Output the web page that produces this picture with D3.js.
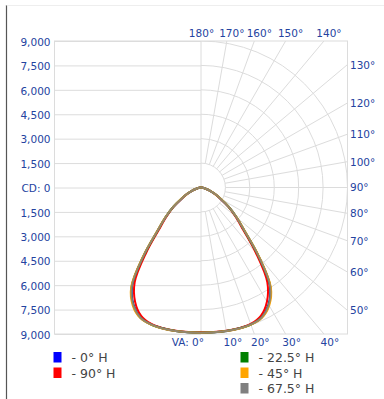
<!DOCTYPE html>
<html>
<head>
<meta charset="utf-8">
<script src="https://cdn.jsdelivr.net/npm/d3@7"></script>
<style>
  body { margin: 0; background: #fff; }
  svg { display: block; }
  text { font-family: "DejaVu Sans", sans-serif; }
</style>
</head>
<body>
<div id="chart"></div>
<script>
// vertical angles (deg from nadir) and candela values for each horizontal plane
const angles = [0, 5, 10, 15, 20, 25, 30, 35, 40, 45, 50, 55, 60, 65, 70, 75, 80, 85, 90];
const h0   = [8920, 8930, 8950, 8970, 8950, 8800, 8300, 7380, 5450, 3780, 2830, 2080, 1400, 950, 600, 300, 120, 40, 0];
const h90  = [8900, 8910, 8930, 8950, 8920, 8700, 8100, 7100, 5250, 3650, 2750, 2030, 1370, 930, 590, 295, 118, 40, 0];
const h225 = [8920, 8930, 8950, 8970, 8960, 8820, 8330, 7420, 5500, 3800, 2850, 2090, 1410, 955, 600, 300, 120, 40, 0];
const h45  = [8920, 8930, 8950, 8980, 8970, 8840, 8380, 7480, 5550, 3830, 2860, 2100, 1420, 960, 605, 300, 120, 40, 0];
const h675 = [8920, 8930, 8950, 8970, 8950, 8810, 8320, 7400, 5480, 3790, 2840, 2080, 1400, 950, 600, 300, 120, 40, 0];

const cdTicks = [0, 1500, 3000, 4500, 6000, 7500, 9000];
const rightLabels = [130, 120, 110, 100, 90, 80, 70, 60, 50];
const topLabels = [180, 170, 160, 150, 140];
const bottomLabels = [0, 10, 20, 30, 40];

const series = [
  { name: "- 0° H",    values: h0,   color: "#0000ff", col: 0, row: 0 },
  { name: "- 90° H",   values: h90,  color: "#ff0000", col: 0, row: 1 },
  { name: "- 22.5° H", values: h225, color: "#008000", col: 1, row: 0 },
  { name: "- 45° H",   values: h45,  color: "#ffa500", col: 1, row: 1 },
  { name: "- 67.5° H", values: h675, color: "#808080", col: 1, row: 2 }
];

const width = 384, height = 399;
const cx = 201, cy = 187.5, R = 146.5;
const labelColor = "#2443a0";
const gridColor = "#dcdcdc";
const rad = Math.PI / 180;

const svg = d3.select("#chart").append("svg")
  .attr("width", width)
  .attr("height", height);

// page border
svg.append("line").attr("x1", 6.5).attr("x2", 6.5).attr("y1", 5).attr("y2", height)
  .attr("stroke", "#555").attr("stroke-width", 1.2);
svg.append("line").attr("x1", 6.5).attr("x2", width).attr("y1", 5.5).attr("y2", 5.5)
  .attr("stroke", "#eee");

const r = d3.scaleLinear().domain([0, 9000]).range([0, R]);
const yTop = d3.scaleLinear().domain([0, 9000]).range([cy, cy - R]);
const yBot = d3.scaleLinear().domain([0, 9000]).range([cy, cy + R]);

const fmt = d3.format(",");

// left axis with gridlines (top half, then bottom half)
function styleAxis(g) {
  g.select(".domain").remove();
  g.selectAll(".tick line").attr("stroke", gridColor);
  g.selectAll(".tick text")
    .attr("fill", labelColor)
    .style("font-size", "10.5px")
    .attr("dy", "0.4em");
}

svg.append("g")
  .attr("transform", `translate(${cx - R},0)`)
  .call(d3.axisLeft(yTop).tickValues(cdTicks).tickSize(-R).tickPadding(4)
    .tickFormat(d => d === 0 ? "CD: 0" : fmt(d)))
  .call(styleAxis);

svg.append("g")
  .attr("transform", `translate(${cx - R},0)`)
  .call(d3.axisLeft(yBot).tickValues(cdTicks.slice(1)).tickSize(-R).tickPadding(4)
    .tickFormat(fmt))
  .call(styleAxis);

// polar grid on right half
svg.append("clipPath").attr("id", "rightHalf")
  .append("rect").attr("x", cx).attr("y", cy - R).attr("width", R).attr("height", 2 * R);

const grid = svg.append("g").attr("clip-path", "url(#rightHalf)");
grid.selectAll("circle.ring")
  .data(cdTicks.slice(1))
  .join("circle")
  .attr("class", "ring")
  .attr("cx", cx).attr("cy", cy)
  .attr("r", d => r(d))
  .attr("fill", "none")
  .attr("stroke", gridColor);

const spokes = d3.range(0, 181, 10);
svg.append("g").selectAll("line")
  .data(spokes)
  .join("line")
  .each(function (a) {
    const s = Math.sin(a * rad), c = Math.cos(a * rad);
    const t = Math.min(Math.abs(s) > 1e-6 ? R / Math.abs(s) : Infinity,
                       Math.abs(c) > 1e-6 ? R / Math.abs(c) : Infinity);
    const t0 = (a === 0 || a === 180) ? 0 : r(1500);
    d3.select(this)
      .attr("x1", cx + t0 * s).attr("y1", cy + t0 * c)
      .attr("x2", cx + t * s).attr("y2", cy + t * c);
  })
  .attr("stroke", gridColor);

// frame
svg.append("rect")
  .attr("x", cx - R).attr("y", cy - R)
  .attr("width", 2 * R).attr("height", 2 * R)
  .attr("fill", "none").attr("stroke", gridColor);

// angle labels
const angText = svg.append("g").attr("fill", labelColor).style("font-size", "10.5px");
angText.selectAll("text.right")
  .data(rightLabels)
  .join("text")
  .attr("x", cx + R + 2.5)
  .attr("y", a => cy + R * Math.cos(a * rad) / Math.sin(a * rad))
  .attr("dy", "0.38em")
  .text(a => a + "°");

angText.selectAll("text.top")
  .data(topLabels)
  .join("text")
  .attr("text-anchor", "middle")
  .attr("x", a => cx + R * Math.tan((180 - a) * rad) + (a === 180 ? 0.5 : 5))
  .attr("y", cy - R - 4)
  .text(a => a + "°");

angText.selectAll("text.bottom")
  .data(bottomLabels)
  .join("text")
  .attr("text-anchor", a => a === 0 ? "end" : "middle")
  .attr("x", a => a === 0 ? cx + 3 : cx + R * Math.tan(a * rad) + 6)
  .attr("y", cy + R + 12)
  .text(a => a === 0 ? "VA: 0°" : a + "°");

// intensity curves, mirrored to both halves
const line = d3.lineRadial()
  .angle(d => d[0])
  .radius(d => r(d[1]))
  .curve(d3.curveCatmullRom.alpha(0.5));

const plot = svg.append("g").attr("transform", `translate(${cx},${cy})`);
const drawOrder = [0, 1, 2, 3, 4];
drawOrder.forEach(i => {
  const s = series[i];
  const pts = [];
  for (let k = angles.length - 1; k >= 0; k--) pts.push([Math.PI + angles[k] * rad, s.values[k]]);
  for (let k = 1; k < angles.length; k++) pts.push([Math.PI - angles[k] * rad, s.values[k]]);
  plot.append("path")
    .attr("d", line(pts))
    .attr("fill", "none")
    .attr("stroke", s.color)
    .attr("stroke-width", 2)
    .attr("stroke-linejoin", "round")
    .attr("opacity", i === 4 ? 0.85 : 1);
});

// legend
const legend = svg.append("g");
const colX = [53.5, 240.5], rowY = [352, 367.5, 383];
const item = legend.selectAll("g")
  .data(series)
  .join("g")
  .attr("transform", d => `translate(${colX[d.col]},${rowY[d.row]})`);
item.append("rect").attr("width", 8).attr("height", 10.5).attr("fill", d => d.color);
item.append("text")
  .attr("x", 18).attr("y", 5.5).attr("dy", "0.36em")
  .attr("fill", "#444")
  .style("font-size", "12.5px")
  .text(d => d.name);
</script>
</body>
</html>
